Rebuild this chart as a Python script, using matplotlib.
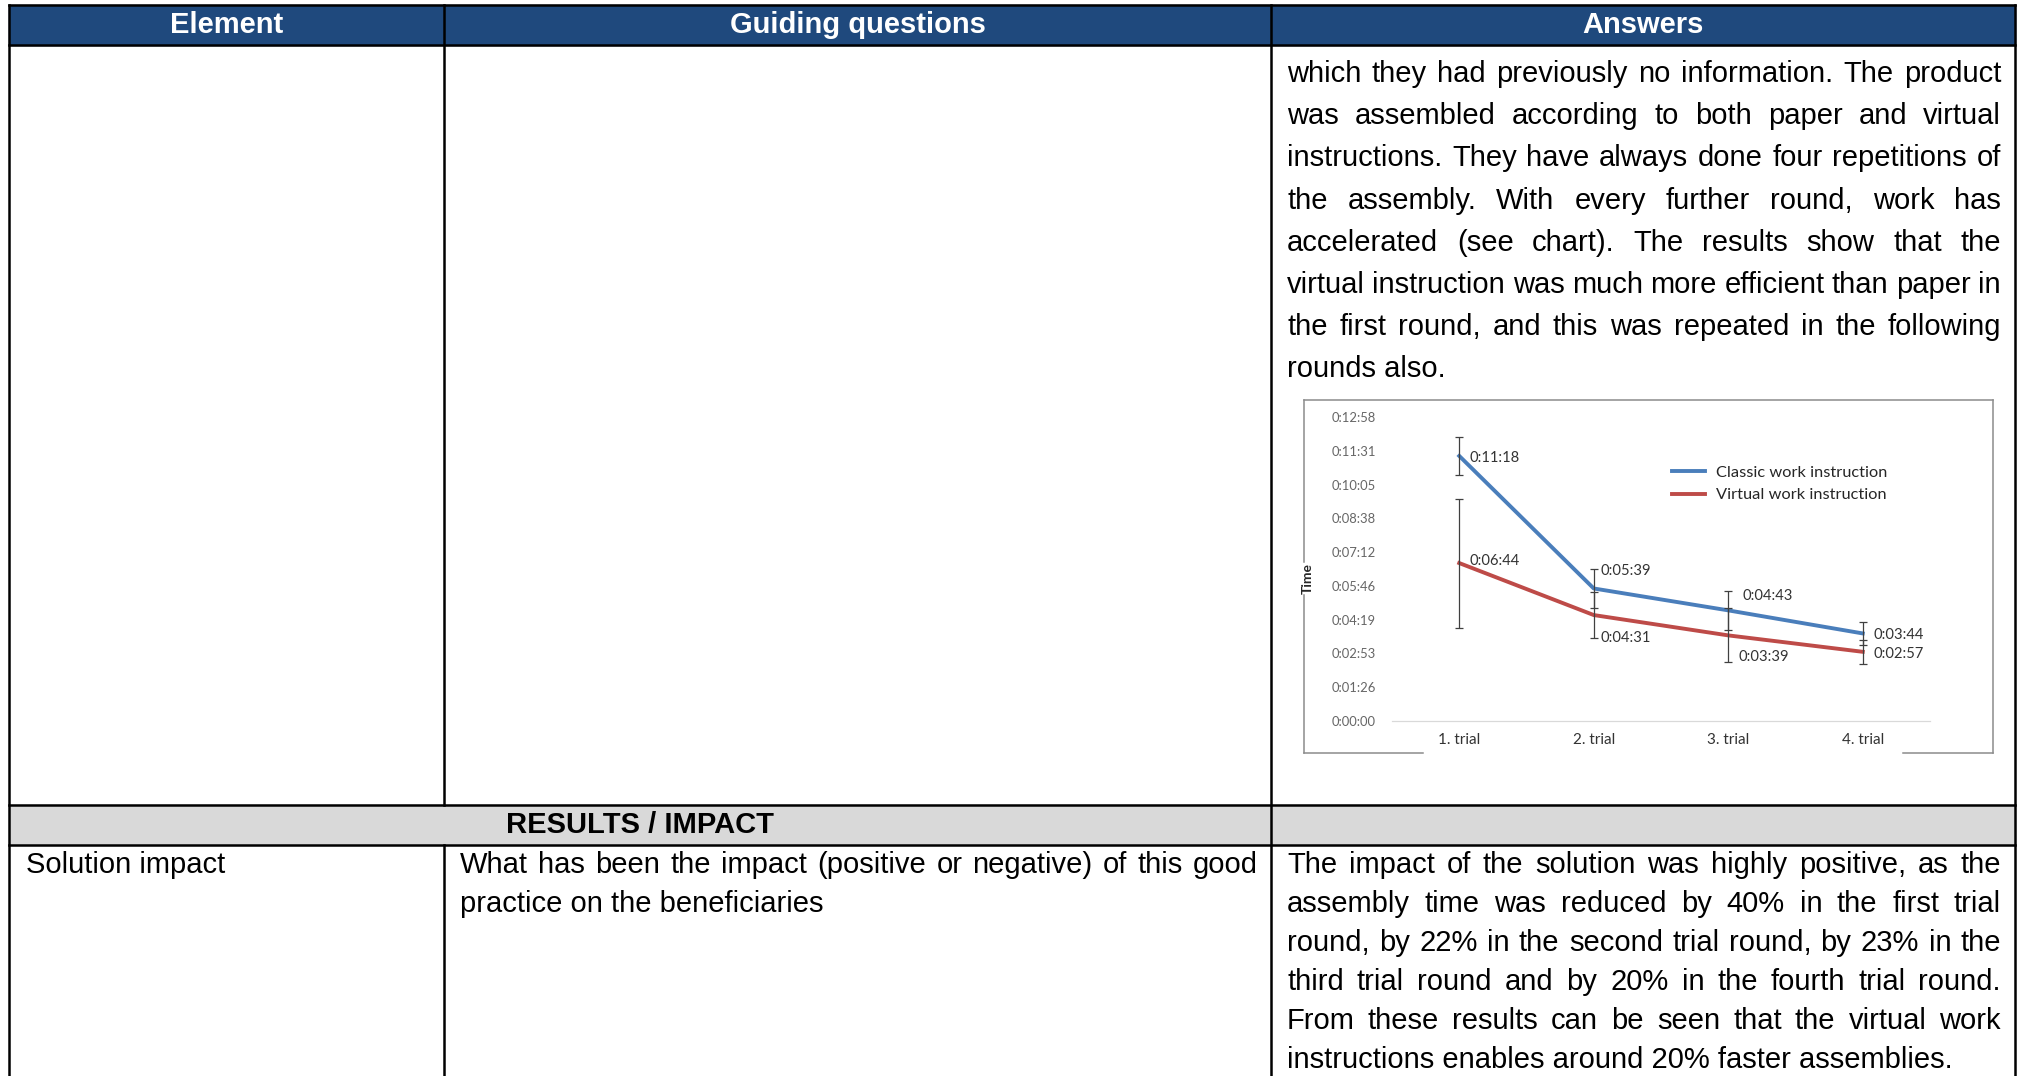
import numpy as np
import matplotlib
matplotlib.use("Agg")
import matplotlib.pyplot as plt
from matplotlib.patches import Rectangle
from matplotlib.ticker import FuncFormatter

# page size in pixels (dpi 100)
W, H, DPI = 2022, 1076, 100

# --- chart data (seconds) ---
trials = ["1. trial", "2. trial", "3. trial", "4. trial"]
classic_sec = [678, 339, 283, 224]   # 0:11:18 0:05:39 0:04:43 0:03:44
virtual_sec = [404, 271, 219, 177]   # 0:06:44 0:04:31 0:03:39 0:02:57
classic_err = [48, 51, 50, 30]
virtual_err = [165, 59, 69, 30]
series_names = ["Classic work instruction", "Virtual work instruction"]
y_step = 86.4     # excel major unit 0.001 day
y_max = 777.6

# label offsets in pixels (dx, dy) from each point
classic_off = [(10, -2), (7, 17), (14, 14), (11, -2)]
virtual_off = [(10, 2), (7, -23), (10, -22), (11, -2)]

# --- table text ---
header_cols = ["Element", "Guiding questions", "Answers"]
answer_lines = [
    "which they had previously no information. The product",
    "was assembled according to both paper and virtual",
    "instructions. They have always done four repetitions of",
    "the assembly. With every further round, work has",
    "accelerated (see chart). The results show that the",
    "virtual instruction was much more efficient than paper in",
    "the first round, and this was repeated in the following",
    "rounds also.",
]
section_title = "RESULTS / IMPACT"
impact_element = "Solution impact"
impact_question = [
    "What has been the impact (positive or negative) of this good",
    "practice on the beneficiaries",
]
impact_answer = [
    "The impact of the solution was highly positive, as the",
    "assembly time was reduced by 40% in the first trial",
    "round, by 22% in the second trial round, by 23% in the",
    "third trial round and by 20% in the fourth trial round.",
    "From these results can be seen that the virtual work",
    "instructions enables around 20% faster assemblies.",
]

plt.rcParams['font.family'] = ['Liberation Sans', 'DejaVu Sans']

fig = plt.figure(figsize=(W / DPI, H / DPI), dpi=DPI)
fig.patch.set_facecolor('white')

# table drawn in pixel coordinates
tab = fig.add_axes([0, 0, 1, 1])
tab.set_xlim(0, W)
tab.set_ylim(H, 0)
tab.axis('off')

xl, xc1, xc2, xr = 9, 444, 1271, 2015
y_top, y_head, y_res0, y_res1 = 5, 45, 805, 845
border = dict(color='black', lw=1.8, solid_capstyle='projecting')

tab.add_patch(Rectangle((xl, y_top), xr - xl, y_head - y_top, color='#1F497D', zorder=0))
tab.add_patch(Rectangle((xl, y_res0), xr - xl, y_res1 - y_res0, color='#D9D9D9', zorder=0))

for y in (y_top, y_head, y_res0, y_res1):
    tab.plot([xl, xr], [y, y], **border)
for x in (xl, xc2, xr):
    tab.plot([x, x], [y_top, H], **border)
tab.plot([xc1, xc1], [y_top, y_res0], **border)
tab.plot([xc1, xc1], [y_res1, H], **border)

head_kw = dict(fontsize=21, fontweight='bold', color='white', ha='center', va='baseline')
for name, (a, b) in zip(header_cols, [(xl, xc1), (xc1, xc2), (xc2, xr)]):
    tab.text((a + b) / 2, 33, name, **head_kw)

tab.text((xl + xc2) / 2, 833, section_title, fontsize=21, fontweight='bold',
         color='black', ha='center', va='baseline')

body = dict(fontsize=21, color='black', ha='left', va='baseline')
renderer = fig.canvas.get_renderer()


def put_para(lines, x0, x1, y0, step):
    # justified paragraph, last line left aligned
    for i, line in enumerate(lines):
        y = y0 + i * step
        words = line.split()
        if i == len(lines) - 1 or len(words) == 1:
            tab.text(x0, y, line, **body)
            continue
        arts = [tab.text(0, y, w, **body) for w in words]
        widths = [a.get_window_extent(renderer).width for a in arts]
        gap = (x1 - x0 - sum(widths)) / (len(words) - 1)
        x = x0
        for a, w in zip(arts, widths):
            a.set_x(x)
            x += w + gap


put_para(answer_lines, xc2 + 16, xr - 14, 82, 42.2)
tab.text(xl + 17, 873, impact_element, **body)
put_para(impact_question, xc1 + 16, xc2 - 13, 873, 39)
put_para(impact_answer, xc2 + 16, xr - 14, 873, 39)

# chart frame (image border with gaps)
fx0, fx1, fy0, fy1 = 1304, 1993, 400, 753
frame = dict(color='#8C8C8C', lw=1.1)
tab.plot([fx0, fx1], [fy0, fy0], **frame)
tab.plot([fx1, fx1], [fy0, fy1], **frame)
tab.plot([fx0, fx0], [fy0, 562], **frame)
tab.plot([fx0, fx0], [595, fy1], **frame)
tab.plot([fx0, 1423], [fy1, fy1], **frame)
tab.plot([1903, fx1], [fy1, fy1], **frame)
tab.text(1308, 578, "Time", rotation=90, ha='center', va='center', fontsize=10,
         fontweight='bold', color='#262626', family=['Lato', 'DejaVu Sans'])

# --- line chart ---
cfont = ['Lato', 'DejaVu Sans']
ax = fig.add_axes([1392 / W, 1 - 721 / H, 538 / W, 304 / H])
ax.patch.set_alpha(0)
x = np.arange(len(trials))

l1, = ax.plot(x, classic_sec, color='#4A7EBB', lw=2.8, label=series_names[0], zorder=3)
l2, = ax.plot(x, virtual_sec, color='#BE4B48', lw=2.8, label=series_names[1], zorder=3)
ax.errorbar(x, classic_sec, yerr=classic_err, fmt='none', ecolor='#404040',
            elinewidth=0.9, capsize=2.8, capthick=0.9, zorder=4)
ax.errorbar(x, virtual_sec, yerr=virtual_err, fmt='none', ecolor='#404040',
            elinewidth=0.9, capsize=2.8, capthick=0.9, zorder=4)


def hms(s, pos=None):
    s = int(round(s))
    return f"{s // 3600}:{s % 3600 // 60:02d}:{s % 60:02d}"


for vals, offs in ((classic_sec, classic_off), (virtual_sec, virtual_off)):
    for i, v in enumerate(vals):
        ax.annotate(hms(v), (i, v), xytext=offs[i], textcoords='offset pixels',
                    ha='left', va='center', fontsize=10.6, color='#333333', family=cfont)

ax.set_xlim(-0.5, len(trials) - 0.5)
ax.set_ylim(0, y_max)
ax.set_yticks(np.arange(0, y_max + 1, y_step))
ax.yaxis.set_major_formatter(FuncFormatter(hms))
ax.set_xticks(x)
ax.set_xticklabels(trials)
for sp in ('top', 'right', 'left'):
    ax.spines[sp].set_visible(False)
ax.spines['bottom'].set_color('#D9D9D9')
ax.spines['bottom'].set_linewidth(0.9)
ax.tick_params(length=0)
ax.tick_params(axis='y', pad=11.5, labelsize=9.4, labelcolor='#666666')
ax.tick_params(axis='x', pad=9, labelsize=11, labelcolor='#333333')
for t in ax.get_xticklabels() + ax.get_yticklabels():
    t.set_family(cfont)

ax.legend(handles=[l1, l2], loc='center left', bbox_to_anchor=(0.52, 0.78),
          frameon=False, handlelength=2.0, handletextpad=0.7, labelspacing=0.5,
          borderpad=0, borderaxespad=0,
          prop={'family': cfont, 'size': 11.8}, labelcolor='#262626')

fig.savefig("out.png", dpi=DPI)
